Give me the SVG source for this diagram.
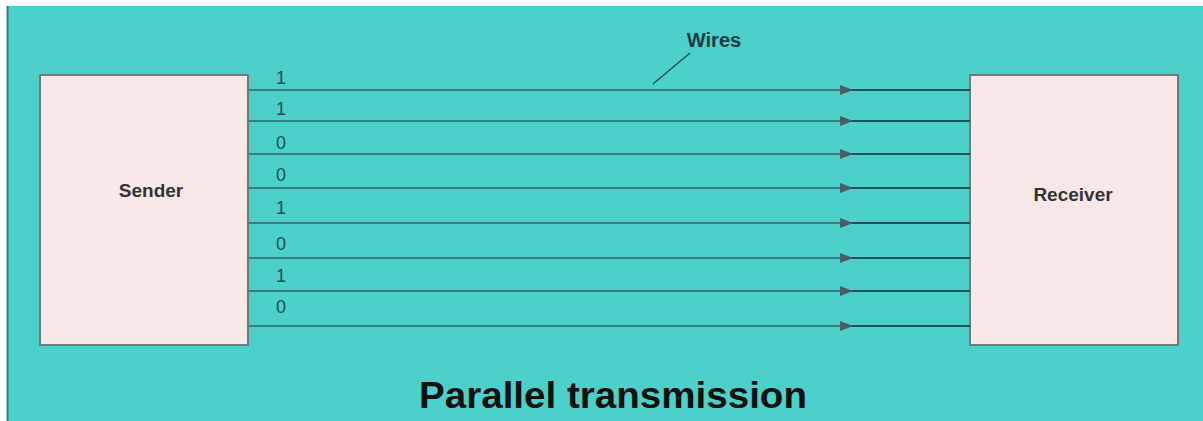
<svg xmlns="http://www.w3.org/2000/svg" width="1203" height="421" viewBox="0 0 1203 421">
<style>
.box{fill:#f8e9e8;stroke:#6f7a7c;stroke-width:2}
.lbl{font-family:"Liberation Sans",Arial,sans-serif;font-weight:bold;fill:#333;text-anchor:middle}
.bit{font-family:"Liberation Sans",Arial,sans-serif;font-size:18px;fill:#1c4d55;text-anchor:middle}
.wl{stroke:#3a7d86;stroke-width:2}
.wr{stroke:#1b525b;stroke-width:2.2}
.ah{fill:#4a5c64}
</style>
<rect x="0" y="0" width="1203" height="421" fill="#ffffff"/>
<rect x="7" y="6" width="1196" height="415" fill="#4bd0ca"/>
<line x1="7.5" y1="6" x2="7.5" y2="421" stroke="#2f7f80" stroke-width="2"/>
<g id="sender">
<rect class="box" x="40" y="75" width="208" height="270"/>
<text class="lbl" x="151" y="197" font-size="19">Sender</text>
</g>
<g id="receiver">
<rect class="box" x="970" y="75" width="208" height="270"/>
<text class="lbl" x="1073" y="201" font-size="19">Receiver</text>
</g>
<g id="connectors">
<g id="w1"><line class="wl" x1="248" y1="90" x2="846" y2="90"/><line class="wr" x1="846" y1="90" x2="970" y2="90"/><polygon class="ah" points="840,85 853,90 840,95"/></g>
<g id="w2"><line class="wl" x1="248" y1="121" x2="846" y2="121"/><line class="wr" x1="846" y1="121" x2="970" y2="121"/><polygon class="ah" points="840,116 853,121 840,126"/></g>
<g id="w3"><line class="wl" x1="248" y1="154" x2="846" y2="154"/><line class="wr" x1="846" y1="154" x2="970" y2="154"/><polygon class="ah" points="840,149 853,154 840,159"/></g>
<g id="w4"><line class="wl" x1="248" y1="188" x2="846" y2="188"/><line class="wr" x1="846" y1="188" x2="970" y2="188"/><polygon class="ah" points="840,183 853,188 840,193"/></g>
<g id="w5"><line class="wl" x1="248" y1="223" x2="846" y2="223"/><line class="wr" x1="846" y1="223" x2="970" y2="223"/><polygon class="ah" points="840,218 853,223 840,228"/></g>
<g id="w6"><line class="wl" x1="248" y1="258" x2="846" y2="258"/><line class="wr" x1="846" y1="258" x2="970" y2="258"/><polygon class="ah" points="840,253 853,258 840,263"/></g>
<g id="w7"><line class="wl" x1="248" y1="291" x2="846" y2="291"/><line class="wr" x1="846" y1="291" x2="970" y2="291"/><polygon class="ah" points="840,286 853,291 840,296"/></g>
<g id="w8"><line class="wl" x1="248" y1="326" x2="846" y2="326"/><line class="wr" x1="846" y1="326" x2="970" y2="326"/><polygon class="ah" points="840,321 853,326 840,331"/></g>
<line x1="653" y1="84" x2="690" y2="53" stroke="#1c4d55" stroke-width="1.5"/>
</g>
<g id="bits">
<text class="bit" x="281" y="84">1</text>
<text class="bit" x="281" y="115">1</text>
<text class="bit" x="281" y="149">0</text>
<text class="bit" x="281" y="181">0</text>
<text class="bit" x="281" y="214">1</text>
<text class="bit" x="281" y="250">0</text>
<text class="bit" x="281" y="282">1</text>
<text class="bit" x="281" y="313">0</text>
</g>
<text class="lbl" x="714" y="47" font-size="20" style="fill:#1a3d45">Wires</text>
<text class="lbl" x="613" y="408" font-size="36" textLength="388" lengthAdjust="spacingAndGlyphs" style="fill:#111">Parallel transmission</text>
</svg>
